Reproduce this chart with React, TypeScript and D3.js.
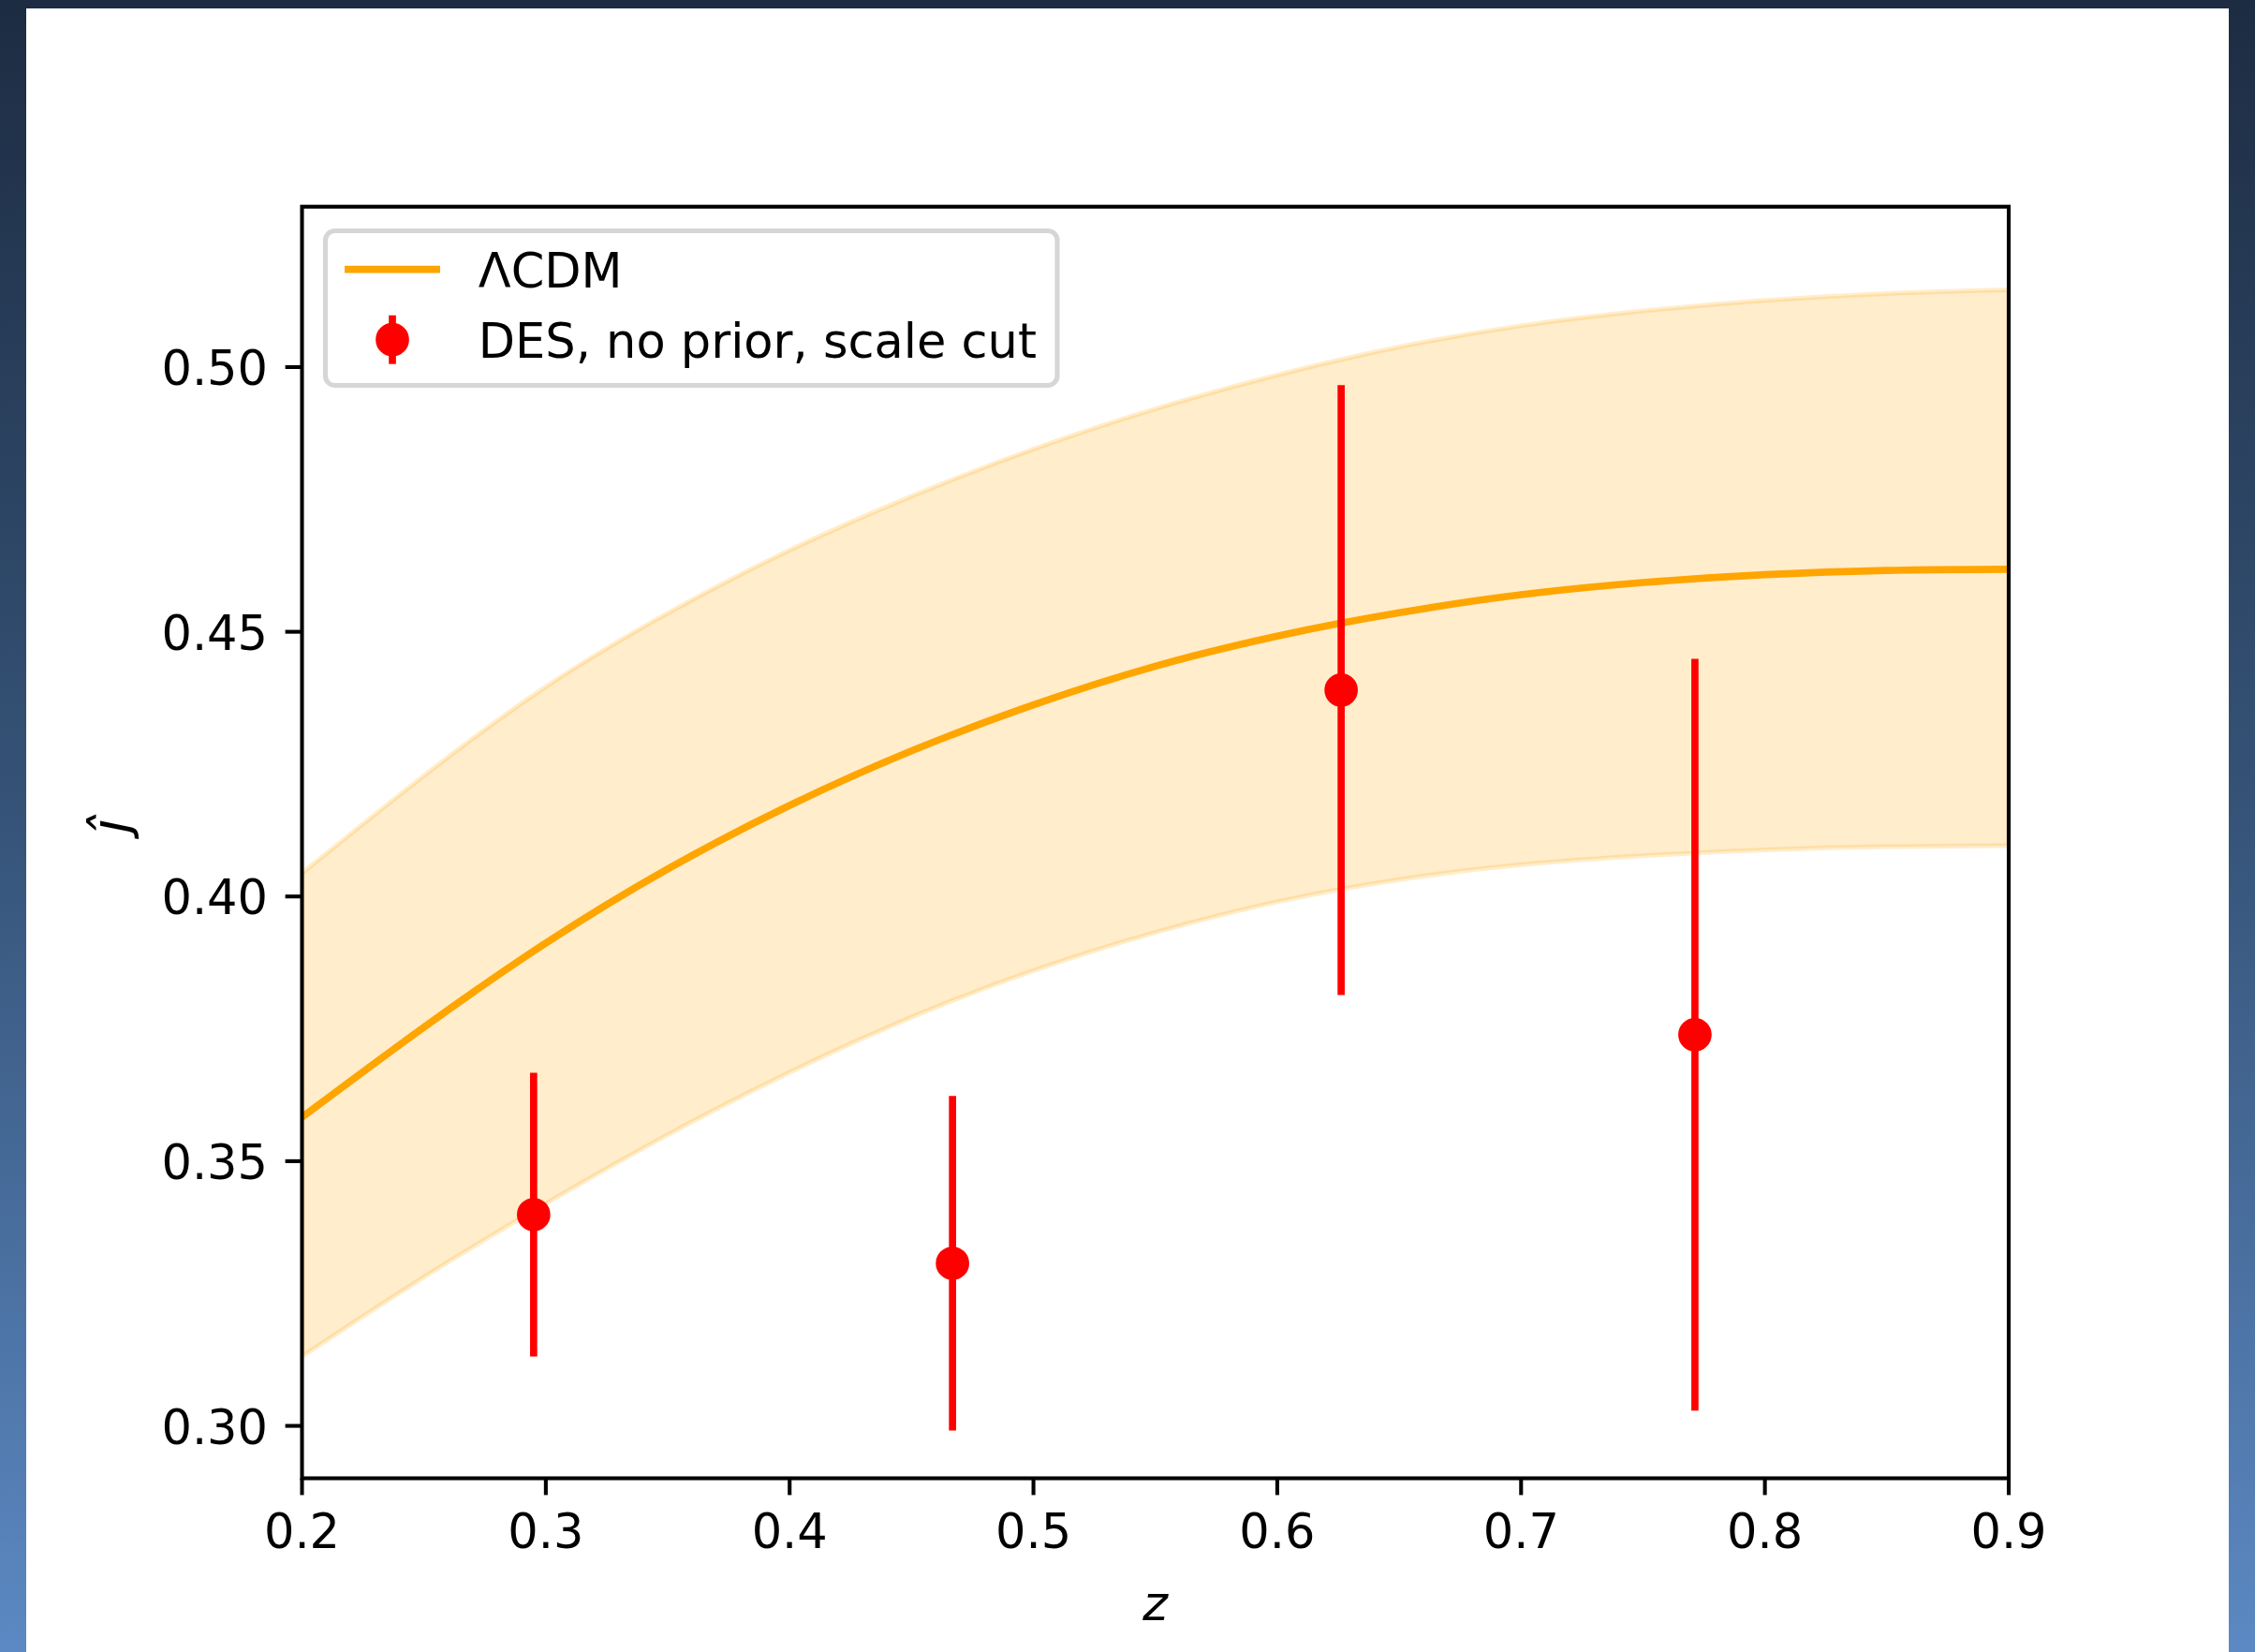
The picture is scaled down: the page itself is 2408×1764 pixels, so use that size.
import React from "react";
import * as d3 from "d3";

// ---- data ----
const zGrid = [0.2, 0.25, 0.3, 0.35, 0.4, 0.45, 0.5, 0.55, 0.6, 0.65, 0.7, 0.75, 0.8, 0.85, 0.9];
const jMid = [0.3583, 0.3753, 0.3912, 0.4052, 0.4172, 0.4275, 0.4362, 0.4435, 0.4492, 0.4536, 0.457, 0.4593, 0.4608, 0.4616, 0.4618];
const jUpper = [0.4044, 0.4228, 0.4396, 0.4535, 0.4654, 0.4756, 0.4845, 0.4921, 0.4985, 0.5038, 0.5078, 0.5106, 0.5126, 0.5139, 0.5146];
const jLower = [0.3131, 0.3281, 0.342, 0.355, 0.3668, 0.3772, 0.386, 0.3932, 0.399, 0.4032, 0.406, 0.4077, 0.4088, 0.4094, 0.4096];

const zPts = [0.295, 0.4668, 0.6262, 0.7713];
const jPts = [0.3399, 0.3307, 0.439, 0.3739];
const jErr = [0.0268, 0.0316, 0.0576, 0.071];

const xTicks = [0.2, 0.3, 0.4, 0.5, 0.6, 0.7, 0.8, 0.9];
const yTicks = [0.3, 0.35, 0.4, 0.45, 0.5];
const legendLabels = ["\u039BCDM", "DES, no prior, scale cut"];

const W = 2408;
const H = 1764;
const PL = 322.5, PR = 2145, PT = 220.7, PB = 1578.5;
const FONT = "DejaVu Sans";
const FS = 51;
const LW = 7.66;
const SPINE = 4.08;
const TICK = 17.9;

export default function App() {
  const x = d3.scaleLinear().domain([0.2, 0.9]).range([PL, PR]);
  const y = d3.scaleLinear().domain([0.2901, 0.5303]).range([PB, PT]);

  const bandData = zGrid.map((z, i) => ({ z, lo: jLower[i], hi: jUpper[i], mid: jMid[i] }));
  const area = d3
    .area<any>()
    .x((d) => x(d.z))
    .y0((d) => y(d.lo))
    .y1((d) => y(d.hi))
    .curve(d3.curveNatural);
  const line = d3
    .line<any>()
    .x((d) => x(d.z))
    .y((d) => y(d.mid))
    .curve(d3.curveNatural);

  const orange = "#ffa500";
  const red = "#ff0000";

  // legend geometry
  const lgX = 347.5, lgY = 246.5, lgW = 781.5, lgH = 165;
  const hx0 = 368, hx1 = 470;
  const textX = 510.8;
  const row1 = 287.7, row2 = 362.7;

  return (
    <svg
      width={W}
      height={H}
      style={{ position: "absolute", left: 0, top: 0, display: "block" }}
      fontFamily={FONT}
    >
      <defs>
        <linearGradient id="bg" x1="0" y1="0" x2="0" y2="1">
          <stop offset="0" stopColor="#1d2c42" />
          <stop offset="0.5" stopColor="#365479" />
          <stop offset="1" stopColor="#5c89c3" />
        </linearGradient>
        <clipPath id="plotclip">
          <rect x={PL} y={PT} width={PR - PL} height={PB - PT} />
        </clipPath>
      </defs>
      <rect x={0} y={0} width={W} height={H} fill="url(#bg)" />
      <rect x={28} y={9} width={2352} height={H} fill="#ffffff" />

      <g clipPath="url(#plotclip)">
        <path
          d={area(bandData) || ""}
          fill={orange}
          fillOpacity={0.2}
          stroke={orange}
          strokeOpacity={0.2}
          strokeWidth={5}
        />
        <path d={line(bandData) || ""} fill="none" stroke={orange} strokeWidth={LW} />
        {zPts.map((z, i) => (
          <line
            key={"e" + i}
            x1={x(z)}
            x2={x(z)}
            y1={y(jPts[i] - jErr[i])}
            y2={y(jPts[i] + jErr[i])}
            stroke={red}
            strokeWidth={LW}
          />
        ))}
        {zPts.map((z, i) => (
          <circle key={"p" + i} cx={x(z)} cy={y(jPts[i])} r={15.3} fill={red} stroke={red} strokeWidth={5.1} />
        ))}
      </g>

      {/* spines */}
      <rect
        x={PL}
        y={PT}
        width={PR - PL}
        height={PB - PT}
        fill="none"
        stroke="#000"
        strokeWidth={SPINE}
        strokeLinecap="square"
      />

      {/* x ticks */}
      {xTicks.map((t) => (
        <g key={"xt" + t}>
          <line x1={x(t)} x2={x(t)} y1={PB} y2={PB + TICK} stroke="#000" strokeWidth={SPINE} />
          <text x={x(t)} y={1653} fontSize={FS} textAnchor="middle" fill="#000">
            {d3.format(".1f")(t)}
          </text>
        </g>
      ))}
      {/* y ticks */}
      {yTicks.map((t) => (
        <g key={"yt" + t}>
          <line x1={PL - TICK} x2={PL} y1={y(t)} y2={y(t)} stroke="#000" strokeWidth={SPINE} />
          <text x={286} y={y(t) + 19} fontSize={FS} textAnchor="end" fill="#000">
            {d3.format(".2f")(t)}
          </text>
        </g>
      ))}

      {/* axis labels */}
      <text x={(PL + PR) / 2} y={1730} fontSize={FS} fontStyle="italic" textAnchor="middle" fill="#000">
        z
      </text>
      <text
        transform={`translate(137, 882) rotate(-90)`}
        fontSize={56}
        fontStyle="italic"
        textAnchor="middle"
        fill="#000"
      >
        {"\u0135"}
      </text>

      {/* legend */}
      <rect
        x={lgX}
        y={lgY}
        width={lgW}
        height={lgH}
        rx={10}
        ry={10}
        fill="#ffffff"
        fillOpacity={0.8}
        stroke="#cccccc"
        strokeOpacity={0.8}
        strokeWidth={5.1}
      />
      <line x1={hx0} x2={hx1} y1={row1} y2={row1} stroke={orange} strokeWidth={LW} />
      <text x={textX} y={306.7} fontSize={FS} fill="#000">
        {legendLabels[0]}
      </text>
      <line x1={(hx0 + hx1) / 2} x2={(hx0 + hx1) / 2} y1={row2 - 26} y2={row2 + 26} stroke={red} strokeWidth={LW} />
      <circle cx={(hx0 + hx1) / 2} cy={row2} r={15.3} fill={red} stroke={red} strokeWidth={5.1} />
      <text x={textX} y={381.7} fontSize={FS} fill="#000">
        {legendLabels[1]}
      </text>
    </svg>
  );
}
